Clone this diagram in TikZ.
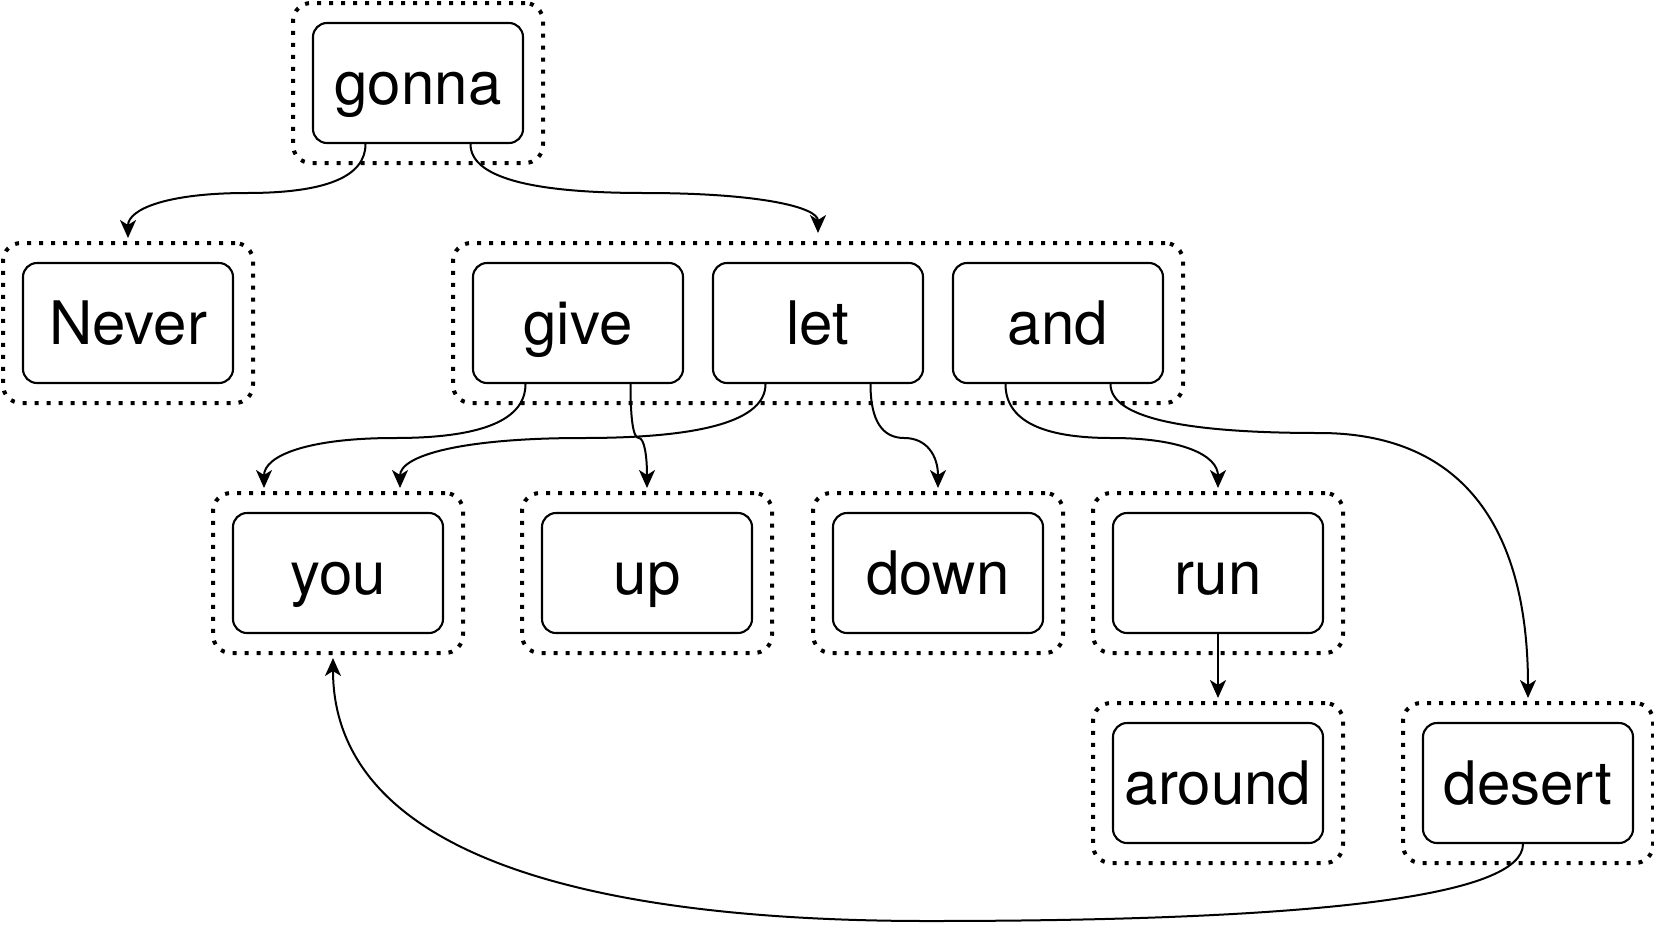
\documentclass[tikz,border=0pt]{standalone}
\usepackage{fontspec}
\setmainfont{TeX Gyre Heros}
\usetikzlibrary{calc}
\usetikzlibrary{arrows.meta}

\begin{document}
\begin{tikzpicture}[
 x=1pt, y=-1pt,
 block/.style = {
    rectangle,
    rounded corners=14pt,
    draw=black,
    line width=2.1pt,
    minimum width=210pt,
    minimum height=120pt,
    inner sep=0pt,
    text height=43pt,
    text depth=0pt,
    font=\fontsize{60}{60}\selectfont},
 frame/.style = {
    rectangle,
    rounded corners=18pt,
    draw=black,
    line width=4pt,
    dash pattern=on 4pt off 8pt,
    minimum width=250pt,
    minimum height=160pt},
 link/.style = {
    line width=2pt,
    -{Stealth[length=18pt,width=16pt,inset=5pt]},
    shorten >=3pt},
 bendy/.style = {to path={let \p1=(\tikztostart), \p2=(\tikztotarget), \p3=(0,#1) in
    .. controls (\x1,{(\y1+2*\y3)/3}) and ({(5*\x1+\x2)/6},\y3)
    .. ({(\x1+\x2)/2},\y3)
    .. controls ({(\x1+5*\x2)/6},\y3) and (\x2,{(\y2+2*\y3)/3})
    .. (\x2,\y2)}},
 node distance = 240pt
 ]
\path[use as bounding box,fill=white] (0,0) rectangle (1654,924);

% words
\node(gonna)[block] at (418,83) {gonna};
\node(never)[block] at (128,323) {Never};
\node(give)[block] at (578,323) {give};
\node(let)[block,right of=give]{let};
\node(and)[block,right of=let]{and};
\node(you)[block] at (338,573) {you};
\node(up)[block] at (647,573) {up};
\node(down)[block] at (938,573) {down};
\node(run)[block] at (1218,573) {run};
\node(around)[block,below of=run,node distance=210pt]{around};
\node(desert)[block] at (1528,783) {desert};

% dotted frames
\node(gonnaF)[frame] at (gonna) {};
\node(neverF)[frame] at (never) {};
\node(rowF)[frame,minimum width=730pt] at (let) {};
\node(youF)[frame] at (you) {};
\node(upF)[frame] at (up) {};
\node(downF)[frame] at (down) {};
\node(runF)[frame] at (run) {};
\node(aroundF)[frame] at (around) {};
\node(desertF)[frame] at (desert) {};

% links
\draw[link] ([xshift=-52.5pt]gonna.south) to[bendy=193] (neverF.north);
\draw[link] ([xshift=52.5pt]gonna.south) to[bendy=193] ([yshift=5pt]rowF.north);
\draw[link] ([xshift=-52.5pt]give.south) to[bendy=438] ([xshift=-74pt]youF.north);
\draw[link] ([xshift=52.5pt]give.south) to[bendy=438] (upF.north);
\draw[link] ([xshift=-52.5pt]let.south) to[bendy=438] ([xshift=62pt]youF.north);
\draw[link] ([xshift=52.5pt]let.south) to[bendy=438] (downF.north);
\draw[link] ([xshift=-52.5pt]and.south) to[bendy=438] (runF.north);
\draw[link] ([xshift=52.5pt]and.south) to[bendy=433] (desertF.north);
\draw[link] (run.south) -- (aroundF.north);
\draw[link] ([xshift=-5pt]desert.south) to[bendy=921] ([xshift=-5pt]youF.south);

\end{tikzpicture}
\end{document}
